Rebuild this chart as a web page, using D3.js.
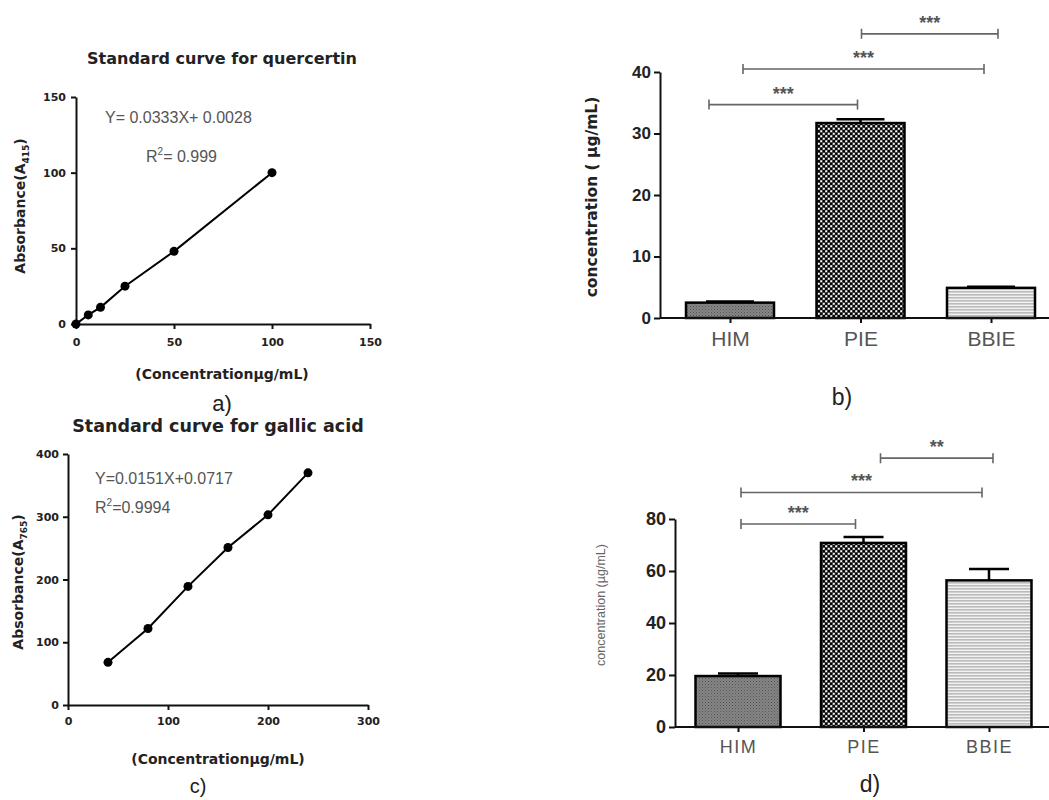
<!DOCTYPE html>
<html>
<head>
<meta charset="utf-8">
<script src="https://cdn.jsdelivr.net/npm/d3@7"></script>
<style>
body { margin: 0; background: #fff; }
text { font-family: "Liberation Sans", Arial, sans-serif; }
.axis path, .axis line { stroke: #111; stroke-width: 2px; }
.axis text { font-weight: bold; fill: #222; font-family: "Liberation Sans", Arial, sans-serif; }
.wide, .axis text.wide { font-family: "DejaVu Sans", sans-serif; }
</style>
</head>
<body>
<svg width="1049" height="800"></svg>
<script>
// standard curves
var quercetinConc = [0, 6.25, 12.5, 25, 50, 100],
    quercetinAbs = [0, 6, 11, 25, 48, 100],
    gallicConc = [40, 80, 120, 160, 200, 240],
    gallicAbs = [68, 122, 189, 251, 303, 370];

// extracts
var groups = ["HIM", "PIE", "BBIE"];
var flavMean = [2.5, 31.7, 4.9],
    flavErr = [0.2, 0.6, 0.2],
    phenMean = [19.6, 70.8, 56.4],
    phenErr = [1.0, 2.3, 4.4];

// significance comparisons
var sigPairs = [["HIM", "PIE"], ["HIM", "BBIE"], ["PIE", "BBIE"]],
    flavStars = ["***", "***", "***"],
    phenStars = ["***", "***", "**"];

var svg = d3.select("svg");
svg.append("rect").attr("width", 1049).attr("height", 800).attr("fill", "#fff");

var defs = svg.append("defs");

// HIM: dark grey fine hatch
var p1 = defs.append("pattern").attr("id", "patHIM").attr("patternUnits", "userSpaceOnUse")
    .attr("width", 3).attr("height", 3);
p1.append("rect").attr("width", 3).attr("height", 3).attr("fill", "#858585");
p1.append("rect").attr("width", 1).attr("height", 1).attr("fill", "#555");
p1.append("rect").attr("x", 1.5).attr("y", 1.5).attr("width", 1).attr("height", 1).attr("fill", "#666");

// PIE: black / white checker dots
var p2 = defs.append("pattern").attr("id", "patPIE").attr("patternUnits", "userSpaceOnUse")
    .attr("width", 5).attr("height", 5);
p2.append("rect").attr("width", 5).attr("height", 5).attr("fill", "#555");
p2.append("circle").attr("cx", 1.25).attr("cy", 1.25).attr("r", 1.1).attr("fill", "#fff");
p2.append("circle").attr("cx", 3.75).attr("cy", 3.75).attr("r", 1.1).attr("fill", "#fff");
p2.append("circle").attr("cx", 3.75).attr("cy", 1.25).attr("r", 1.3).attr("fill", "#000");
p2.append("circle").attr("cx", 1.25).attr("cy", 3.75).attr("r", 1.3).attr("fill", "#000");

// BBIE: light grey horizontal stripes
var p3 = defs.append("pattern").attr("id", "patBBIE").attr("patternUnits", "userSpaceOnUse")
    .attr("width", 4).attr("height", 3);
p3.append("rect").attr("width", 4).attr("height", 3).attr("fill", "#f2f2f2");
p3.append("rect").attr("width", 4).attr("height", 1.6).attr("fill", "#bbb");

var patterns = { HIM: "url(#patHIM)", PIE: "url(#patPIE)", BBIE: "url(#patBBIE)" };

function scatterPanel(cfg) {
  var x = d3.scaleLinear().domain(cfg.xDomain).range(cfg.xRange),
      y = d3.scaleLinear().domain(cfg.yDomain).range(cfg.yRange);
  var g = svg.append("g");

  g.append("g").attr("class", "axis")
      .attr("transform", "translate(0," + y(0) + ")")
      .call(d3.axisBottom(x).tickValues(cfg.xTicks).tickSize(5).tickSizeOuter(0).tickPadding(cfg.xPad))
      .selectAll("text").attr("class", "wide").style("font-size", "11px");
  g.append("g").attr("class", "axis")
      .attr("transform", "translate(" + x(0) + ",0)")
      .call(d3.axisLeft(y).tickValues(cfg.yTicks).tickSize(5).tickSizeOuter(0).tickPadding(cfg.yPad))
      .selectAll("text").attr("class", "wide").style("font-size", "11px");

  var pts = cfg.xs.map(function(v, i) { return [v, cfg.ys[i]]; });
  g.append("path").datum(pts)
      .attr("fill", "none").attr("stroke", "#000").attr("stroke-width", 2)
      .attr("d", d3.line().x(function(d) { return x(d[0]); }).y(function(d) { return y(d[1]); }));
  g.selectAll("circle.pt").data(pts).enter().append("circle")
      .attr("class", "pt")
      .attr("cx", function(d) { return x(d[0]); })
      .attr("cy", function(d) { return y(d[1]); })
      .attr("r", 4.5).attr("fill", "#000");

  g.append("text").attr("class", "wide").attr("x", cfg.title[1]).attr("y", cfg.title[2])
      .attr("text-anchor", "middle").attr("font-weight", "bold")
      .attr("font-size", cfg.title[3]).attr("fill", "#222").text(cfg.title[0]);

  g.append("text").attr("x", cfg.eq[1]).attr("y", cfg.eq[2])
      .attr("font-size", cfg.eq[3]).attr("fill", "#555").text(cfg.eq[0]);
  var r2 = g.append("text").attr("x", cfg.r2[1]).attr("y", cfg.r2[2])
      .attr("font-size", cfg.eq[3]).attr("fill", "#555");
  r2.append("tspan").text("R");
  r2.append("tspan").attr("dy", -7).attr("font-size", 10).text("2");
  r2.append("tspan").attr("dy", 7).text(cfg.r2[0]);

  var yl = g.append("text").attr("class", "wide")
      .attr("transform", "translate(" + cfg.yLab[1] + "," + cfg.yLab[2] + ") rotate(-90)")
      .attr("text-anchor", "middle").attr("font-weight", "bold")
      .attr("font-size", 14).attr("fill", "#222");
  yl.append("tspan").text("Absorbance(A");
  yl.append("tspan").attr("dy", 4).attr("font-size", 9).text(cfg.yLab[0]);
  yl.append("tspan").attr("dy", -4).text(")");

  g.append("text").attr("class", "wide").attr("x", cfg.xLab[0]).attr("y", cfg.xLab[1])
      .attr("text-anchor", "middle").attr("font-weight", "bold")
      .attr("font-size", 14).attr("fill", "#222").text("(Concentrationµg/mL)");

  g.append("text").attr("x", cfg.tag[1]).attr("y", cfg.tag[2])
      .attr("text-anchor", "middle").attr("font-size", cfg.tag[3]).attr("fill", "#222").text(cfg.tag[0]);
}

function barPanel(cfg) {
  var x = d3.scalePoint().domain(groups).range(cfg.xRange),
      y = d3.scaleLinear().domain(cfg.yDomain).range(cfg.yRange);
  var g = svg.append("g");

  // significance brackets
  sigPairs.forEach(function(p, i) {
    var x0 = x(p[0]) + cfg.sigOff[i][0], x1 = x(p[1]) + cfg.sigOff[i][1], yy = y(cfg.sigLevel[i]);
    g.append("path")
        .attr("d", "M" + x0 + "," + (yy - 5) + "V" + (yy + 5) + "M" + x0 + "," + yy + "H" + x1 +
              "M" + x1 + "," + (yy - 5) + "V" + (yy + 5))
        .attr("fill", "none").attr("stroke", "#666").attr("stroke-width", 1.6);
    g.append("text").attr("x", (x0 + x1) / 2).attr("y", yy - 5)
        .attr("text-anchor", "middle").attr("font-size", 18).attr("font-weight", "bold")
        .attr("fill", "#555").text(cfg.stars[i]);
  });

  // error bars
  groups.forEach(function(k, i) {
    var cx = x(k), top = y(cfg.mean[i] + cfg.err[i]);
    g.append("path")
        .attr("d", "M" + cx + "," + y(cfg.mean[i]) + "V" + top + "M" + (cx - cfg.cap) + "," + top + "H" + (cx + cfg.cap))
        .attr("stroke", "#000").attr("stroke-width", 2.5).attr("fill", "none");
  });

  g.selectAll("rect.bar").data(groups).enter().append("rect")
      .attr("class", "bar")
      .attr("x", function(d) { return x(d) - cfg.barW / 2; })
      .attr("width", cfg.barW)
      .attr("y", function(d, i) { return y(cfg.mean[i]); })
      .attr("height", function(d, i) { return y(0) - y(cfg.mean[i]); })
      .attr("fill", function(d) { return patterns[d]; })
      .attr("stroke", "#000").attr("stroke-width", 2.5);

  var xa = g.append("g").attr("class", "axis")
      .attr("transform", "translate(0," + y(0) + ")")
      .call(d3.axisBottom(x).tickSize(5).tickSizeOuter(0).tickPadding(cfg.catPad));
  xa.select(".domain").remove();
  xa.selectAll("text").style("font-size", cfg.catFont + "px").style("font-weight", "normal")
      .style("fill", "#555").style("letter-spacing", cfg.catSpacing + "px");
  g.append("line").attr("x1", cfg.axisX).attr("x2", 1049)
      .attr("y1", y(0)).attr("y2", y(0)).attr("stroke", "#111").attr("stroke-width", 2);

  g.append("g").attr("class", "axis")
      .attr("transform", "translate(" + cfg.axisX + ",0)")
      .call(d3.axisLeft(y).tickValues(cfg.yTicks).tickSize(6).tickSizeOuter(0).tickPadding(3))
      .selectAll("text").style("font-size", cfg.tickFont + "px");

  g.append("text").attr("class", cfg.yLab[6])
      .attr("transform", "translate(" + cfg.yLab[1] + "," + cfg.yLab[2] + ") rotate(-90)")
      .attr("text-anchor", "middle").attr("font-weight", cfg.yLab[4])
      .attr("font-size", cfg.yLab[3]).attr("fill", cfg.yLab[5]).text(cfg.yLab[0]);

  g.append("text").attr("x", cfg.tag[1]).attr("y", cfg.tag[2])
      .attr("text-anchor", "middle").attr("font-size", 23).attr("fill", "#222").text(cfg.tag[0]);
}

scatterPanel({
  xs: quercetinConc, ys: quercetinAbs,
  xDomain: [0, 150], xRange: [76, 370], xTicks: [0, 50, 100, 150],
  yDomain: [0, 150], yRange: [324, 97], yTicks: [0, 50, 100, 150],
  xPad: 9, yPad: 5,
  title: ["Standard curve for quercertin", 222, 64, 16],
  eq: ["Y= 0.0333X+ 0.0028", 105, 123, 16],
  r2: ["= 0.999", 146, 162],
  yLab: ["415", 25, 206],
  xLab: [222, 379],
  tag: ["a)", 222, 411, 22]
});

scatterPanel({
  xs: gallicConc, ys: gallicAbs,
  xDomain: [0, 300], xRange: [68, 368], xTicks: [0, 100, 200, 300],
  yDomain: [0, 400], yRange: [705, 454], yTicks: [0, 100, 200, 300, 400],
  xPad: 7, yPad: 4,
  title: ["Standard curve for gallic acid", 218, 432, 17.5],
  eq: ["Y=0.0151X+0.0717", 95, 484, 16],
  r2: ["=0.9994", 95, 513],
  yLab: ["765", 23, 582],
  xLab: [218, 764],
  tag: ["c)", 198, 793, 20]
});

barPanel({
  mean: flavMean, err: flavErr, stars: flavStars,
  xRange: [730, 991], barW: 88, cap: 24, axisX: 660,
  yDomain: [0, 40], yRange: [318, 72], yTicks: [0, 10, 20, 30, 40],
  sigLevel: [34.7, 40.5, 46.2], sigOff: [[-21, -3], [13, -7], [1, 7]],
  catFont: 21, catPad: 8, catSpacing: 0, tickFont: 17,
  yLab: ["concentration ( µg/mL)", 597, 197, 15.5, "bold", "#222", "wide"],
  tag: ["b)", 842, 405]
});

barPanel({
  mean: phenMean, err: phenErr, stars: phenStars,
  xRange: [738, 989], barW: 85, cap: 20, axisX: 675,
  yDomain: [0, 80], yRange: [727, 519], yTicks: [0, 20, 40, 60, 80],
  sigLevel: [78.1, 90.2, 103.4], sigOff: [[3, -8], [3, -7], [17, 4]],
  catFont: 18, catPad: 8, catSpacing: 1.5, tickFont: 18,
  yLab: ["concentration (µg/mL)", 605, 605, 12.5, "normal", "#666", ""],
  tag: ["d)", 870, 792]
});
</script>
</body>
</html>
